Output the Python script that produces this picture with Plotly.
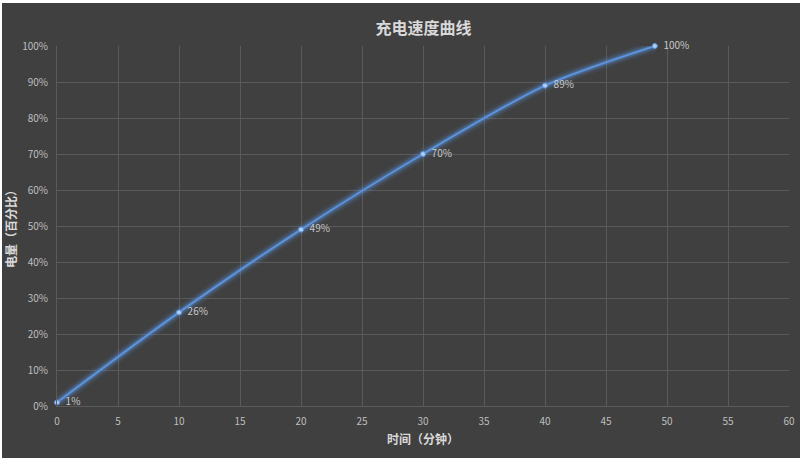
import plotly.graph_objects as go

# data
minutes = [0, 10, 20, 30, 40, 49]
charge = [1, 26, 49, 70, 89, 100]
labels = [f"  {v}%" for v in charge]
x_ticks = list(range(0, 61, 5))
y_ticks = list(range(0, 101, 10))
y_tick_text = [f"{v}%" for v in y_ticks]

font_cn = "Noto Sans CJK SC, Microsoft YaHei, sans-serif"

fig = go.Figure()

# soft glow under the line
for w, a in [(12, 0.08), (8, 0.14), (5, 0.25)]:
    fig.add_trace(go.Scatter(
        x=minutes, y=charge, mode='lines',
        line=dict(color=f'rgba(90,150,235,{a})', width=w, shape='spline', smoothing=0.8),
        hoverinfo='skip', showlegend=False
    ))

fig.add_trace(go.Scatter(
    x=minutes, y=charge, mode='lines+markers+text',
    line=dict(color='#5b93dc', width=2, shape='spline', smoothing=0.8),
    marker=dict(size=5, color='#b0cdf2', line=dict(color='#5b93dc', width=1)),
    text=labels, textposition='middle right', cliponaxis=False,
    textfont=dict(color='#c8c8c8', size=10, family=font_cn),
    showlegend=False
))

fig.update_layout(
    width=800, height=458,
    paper_bgcolor='#404040', plot_bgcolor='#404040',
    margin=dict(l=55, r=13, t=43, b=55),
    title=dict(text='<b>充电速度曲线</b>', x=0.527, xanchor='center', y=0.945, yanchor='middle',
               font=dict(family=font_cn, size=16, color='#d9d9d9')),
    font=dict(family=font_cn, color='#bfbfbf', size=10),
    xaxis=dict(range=[0, 60], tickvals=x_ticks, showgrid=True, gridcolor='#5a5a5a', gridwidth=1,
               zeroline=False, showline=True, linecolor='#5a5a5a', automargin=False,
               tickfont=dict(size=10, color='#bfbfbf'), ticks='outside', ticklen=6, tickcolor='#404040',
               title=dict(text='<b>时间（分钟）</b>', font=dict(size=12, color='#d9d9d9'), standoff=8)),
    yaxis=dict(range=[0, 100], tickvals=y_ticks, ticktext=y_tick_text, showgrid=True,
               gridcolor='#5a5a5a', gridwidth=1, zeroline=False, showline=True, linecolor='#5a5a5a',
               automargin=False,
               tickfont=dict(size=10, color='#bfbfbf'), ticks='outside', ticklen=6, tickcolor='#404040',
               title=dict(text='<b>电量（百分比）</b>', font=dict(size=12, color='#d9d9d9'), standoff=5)),
)

fig.write_html("out.html", post_script="document.body.style.margin='3px 0 0 2px';")
